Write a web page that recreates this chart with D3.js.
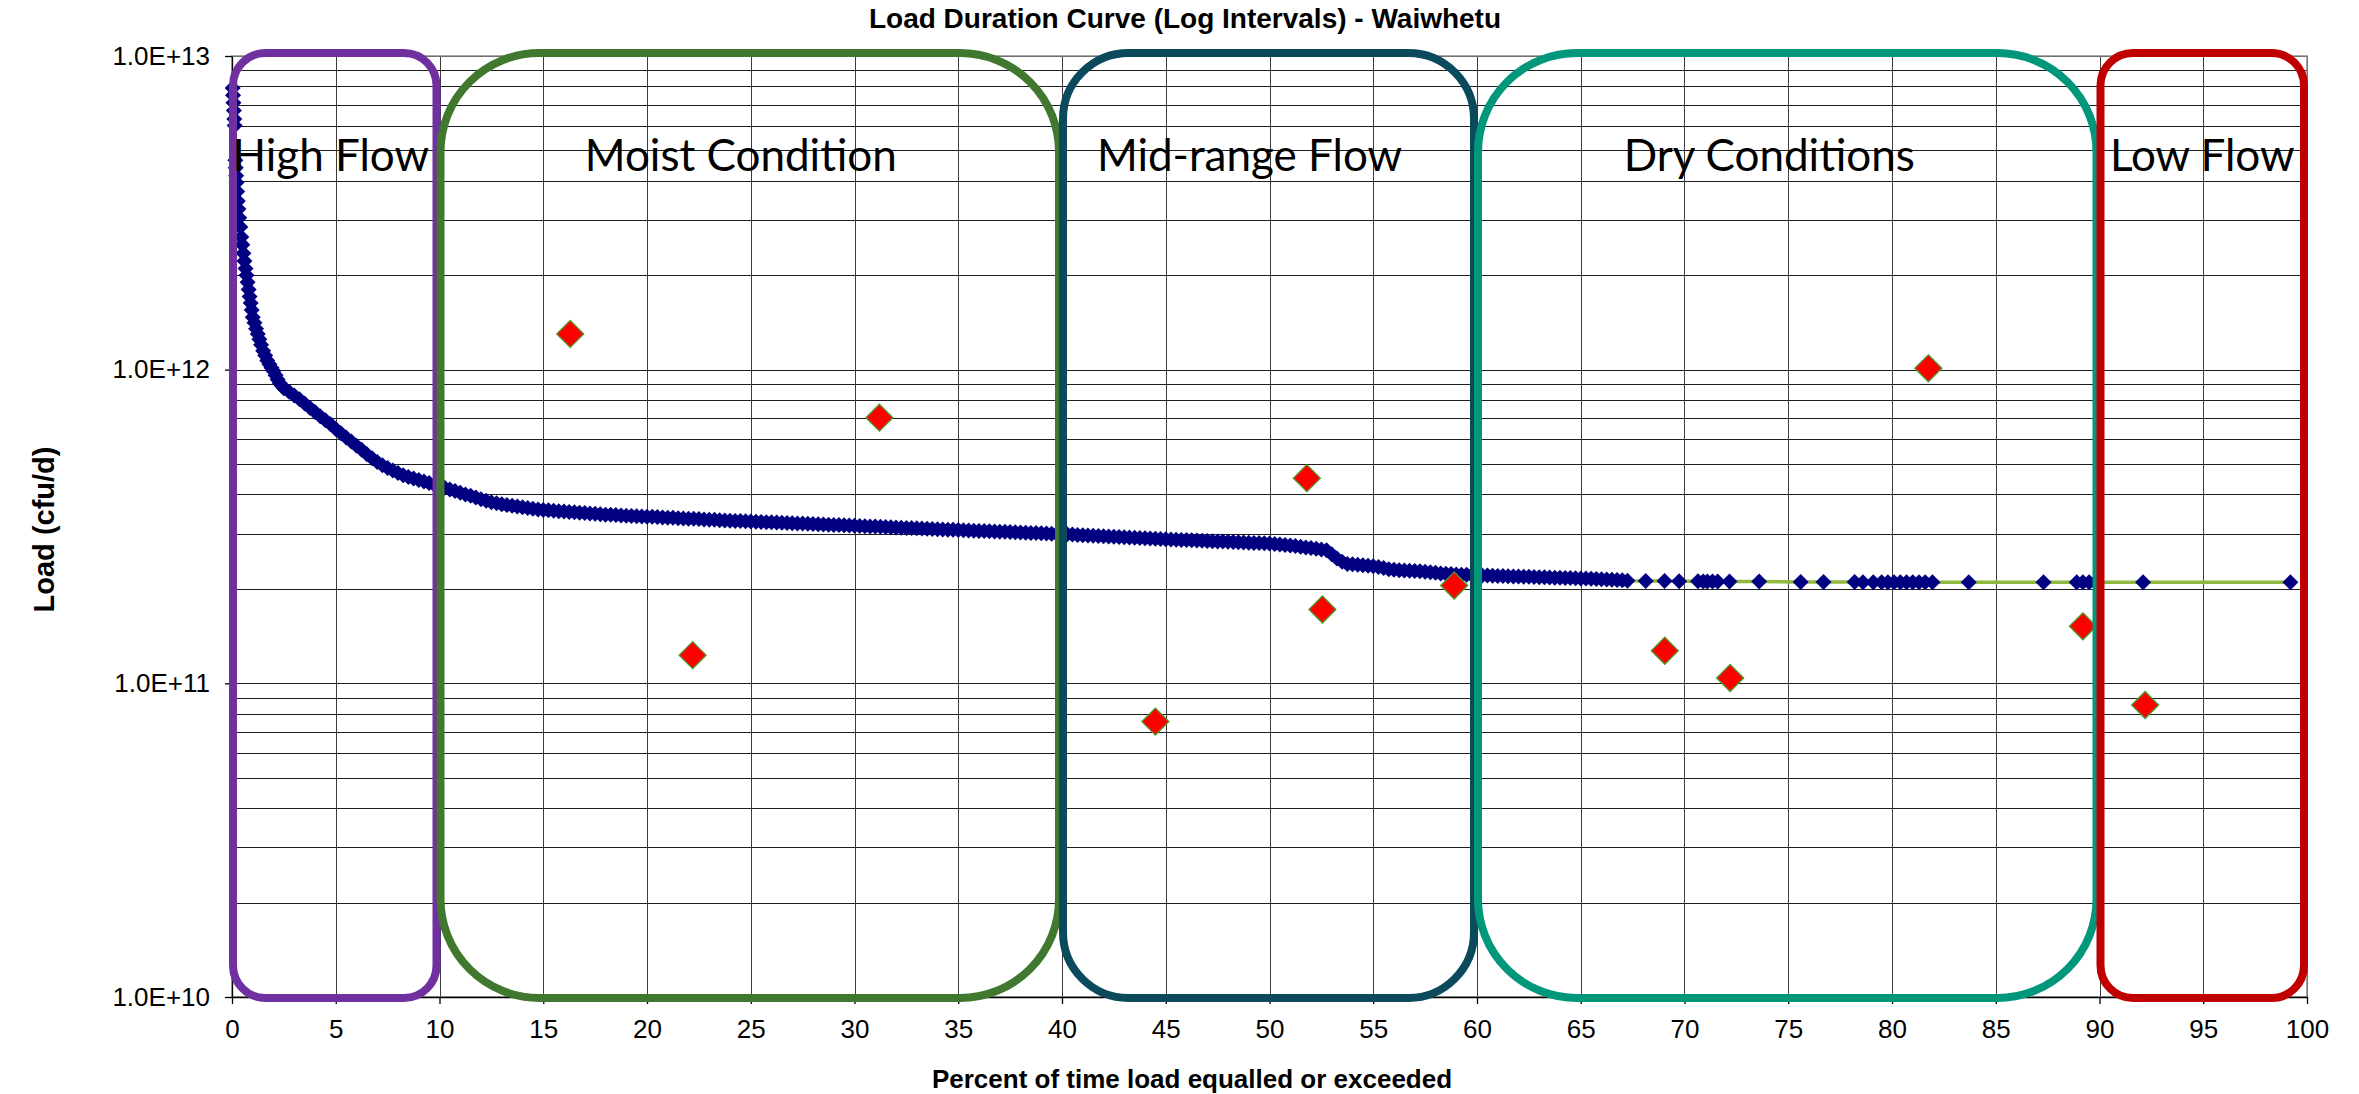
<!DOCTYPE html>
<html>
<head>
<meta charset="utf-8">
<script src="https://cdn.jsdelivr.net/npm/d3@7"></script>
<style>
  body { margin: 0; background: #fff; }
  svg { display: block; }
</style>
</head>
<body>
<div id="chart"></div>
<script>
// All loads below are in units of 1e11 cfu/d
const LOAD_UNIT = 1e11;

// Duration curve - steep start (percent exceeded, load)
const steepPct = [0.03, 0.05, 0.07, 0.09, 0.11, 0.13, 0.16, 0.18, 0.20, 0.22,
   0.25, 0.28, 0.31, 0.35, 0.40, 0.45, 0.50, 0.55, 0.60, 0.65,
   0.70, 0.75, 0.80, 0.85, 0.90, 0.95, 1.00, 1.08, 1.16, 1.24,
   1.32, 1.40, 1.50, 1.60, 1.70, 1.80, 1.90, 2.00, 2.10, 2.20,
   2.30, 2.40];
const steepLoad = [79, 75, 71, 67, 63, 60, 46.5, 44, 41.5, 39.5,
   37, 34.5, 32.5, 30.5, 28.5, 26.5, 25, 23.5, 22.2, 21,
   20, 19, 18, 17.1, 16.3, 15.5, 14.7, 14.1, 13.5, 13.0,
   12.5, 12.0, 11.5, 11.1, 10.7, 10.4, 10.15, 9.9, 9.6, 9.3,
   9.05, 8.88];

// Duration curve - dense band
const bandPct = [2.5, 2.75, 3, 3.25, 3.5, 3.75, 4, 4.25,
   4.5, 4.75, 5, 5.25, 5.5, 5.75, 6, 6.25,
   6.5, 6.75, 7, 7.25, 7.5, 7.75, 8, 8.25,
   8.5, 8.75, 9, 9.25, 9.5, 9.75, 10, 10.25,
   10.5, 10.75, 11, 11.25, 11.5, 11.75, 12, 12.25,
   12.5, 12.75, 13, 13.25, 13.5, 13.75, 14, 14.25,
   14.5, 14.75, 15, 15.25, 15.5, 15.75, 16, 16.25,
   16.5, 16.75, 17, 17.25, 17.5, 17.75, 18, 18.25,
   18.5, 18.75, 19, 19.25, 19.5, 19.75, 20, 20.25,
   20.5, 20.75, 21, 21.25, 21.5, 21.75, 22, 22.25,
   22.5, 22.75, 23, 23.25, 23.5, 23.75, 24, 24.25,
   24.5, 24.75, 25, 25.25, 25.5, 25.75, 26, 26.25,
   26.5, 26.75, 27, 27.25, 27.5, 27.75, 28, 28.25,
   28.5, 28.75, 29, 29.25, 29.5, 29.75, 30, 30.25,
   30.5, 30.75, 31, 31.25, 31.5, 31.75, 32, 32.25,
   32.5, 32.75, 33, 33.25, 33.5, 33.75, 34, 34.25,
   34.5, 34.75, 35, 35.25, 35.5, 35.75, 36, 36.25,
   36.5, 36.75, 37, 37.25, 37.5, 37.75, 38, 38.25,
   38.5, 38.75, 39, 39.25, 39.5, 39.75, 40, 40.25,
   40.5, 40.75, 41, 41.25, 41.5, 41.75, 42, 42.25,
   42.5, 42.75, 43, 43.25, 43.5, 43.75, 44, 44.25,
   44.5, 44.75, 45, 45.25, 45.5, 45.75, 46, 46.25,
   46.5, 46.75, 47, 47.25, 47.5, 47.75, 48, 48.25,
   48.5, 48.75, 49, 49.25, 49.5, 49.75, 50, 50.25,
   50.5, 50.75, 51, 51.25, 51.5, 51.75, 52, 52.25,
   52.5, 52.75, 53, 53.25, 53.5, 53.75, 54, 54.25,
   54.5, 54.75, 55, 55.25, 55.5, 55.75, 56, 56.25,
   56.5, 56.75, 57, 57.25, 57.5, 57.75, 58, 58.25,
   58.5, 58.75, 59, 59.25, 59.5, 59.75, 60, 60.25,
   60.5, 60.75, 61, 61.25, 61.5, 61.75, 62, 62.25,
   62.5, 62.75, 63, 63.25, 63.5, 63.75, 64, 64.25,
   64.5, 64.75, 65, 65.25, 65.5, 65.75, 66, 66.25,
   66.5, 66.75, 67];
const bandLoad = [8.72, 8.50, 8.28, 8.05, 7.80, 7.56, 7.33, 7.10,
   6.90, 6.70, 6.47, 6.27, 6.08, 5.90, 5.72, 5.55,
   5.37, 5.22, 5.08, 4.96, 4.86, 4.77, 4.68, 4.61,
   4.55, 4.50, 4.45, 4.40, 4.35, 4.30, 4.25, 4.20,
   4.15, 4.10, 4.05, 4.00, 3.96, 3.91, 3.86, 3.82,
   3.78, 3.75, 3.72, 3.70, 3.68, 3.66, 3.64, 3.62,
   3.60, 3.58, 3.57, 3.56, 3.55, 3.54, 3.53, 3.52,
   3.51, 3.50, 3.49, 3.48, 3.47, 3.46, 3.45, 3.445,
   3.44, 3.43, 3.42, 3.415, 3.41, 3.405, 3.40, 3.395,
   3.39, 3.38, 3.375, 3.37, 3.36, 3.355, 3.35, 3.345,
   3.34, 3.33, 3.325, 3.32, 3.31, 3.305, 3.30, 3.295,
   3.29, 3.285, 3.28, 3.275, 3.27, 3.265, 3.26, 3.255,
   3.25, 3.245, 3.24, 3.235, 3.23, 3.225, 3.22, 3.215,
   3.21, 3.205, 3.20, 3.195, 3.19, 3.185, 3.18, 3.175,
   3.17, 3.165, 3.16, 3.155, 3.15, 3.145, 3.14, 3.135,
   3.13, 3.125, 3.12, 3.115, 3.11, 3.105, 3.10, 3.095,
   3.09, 3.085, 3.08, 3.075, 3.07, 3.066, 3.062, 3.057,
   3.053, 3.048, 3.044, 3.04, 3.035, 3.031, 3.026, 3.022,
   3.017, 3.013, 3.008, 3.004, 3.0, 2.995, 2.99, 2.985,
   2.98, 2.973, 2.968, 2.962, 2.957, 2.951, 2.946, 2.94,
   2.935, 2.93, 2.924, 2.918, 2.913, 2.907, 2.902, 2.896,
   2.891, 2.885, 2.88, 2.875, 2.871, 2.866, 2.862, 2.857,
   2.853, 2.849, 2.844, 2.84, 2.835, 2.831, 2.826, 2.822,
   2.817, 2.813, 2.808, 2.804, 2.799, 2.795, 2.79, 2.78,
   2.77, 2.76, 2.75, 2.74, 2.725, 2.71, 2.70, 2.685,
   2.67, 2.655, 2.58, 2.50, 2.44, 2.40, 2.395, 2.39,
   2.38, 2.37, 2.36, 2.35, 2.33, 2.31, 2.30, 2.295,
   2.29, 2.285, 2.28, 2.275, 2.27, 2.26, 2.25, 2.24,
   2.235, 2.23, 2.225, 2.22, 2.218, 2.215, 2.21, 2.208,
   2.205, 2.202, 2.2, 2.198, 2.195, 2.192, 2.19, 2.188,
   2.185, 2.182, 2.18, 2.178, 2.175, 2.172, 2.17, 2.168,
   2.165, 2.162, 2.16, 2.157, 2.154, 2.15, 2.146, 2.142,
   2.138, 2.134, 2.13];

// Duration curve - sparse tail
const tailPct = [67.25, 68.13, 69.04, 69.74, 70.65, 70.9, 71.1, 71.35, 71.6, 72.17,
   73.6, 75.6, 76.7, 78.2, 78.6, 79.1, 79.5, 79.8, 80.1, 80.4,
   80.7, 81.0, 81.3, 81.6, 81.95, 83.7, 87.3, 88.9, 89.2, 89.5,
   89.8, 92.1, 99.2];
const tailLoad = [2.125, 2.12, 2.12, 2.115, 2.115, 2.11, 2.11, 2.11, 2.11, 2.11,
   2.11, 2.105, 2.105, 2.105, 2.1, 2.1, 2.1, 2.1, 2.1, 2.1,
   2.1, 2.1, 2.1, 2.1, 2.1, 2.1, 2.1, 2.1, 2.1, 2.1,
   2.1, 2.1, 2.1];

// Observed samples
const samplePct = [16.3, 22.2, 31.2, 44.5, 51.8, 52.55, 58.9, 69.05, 72.2, 81.75, 89.2, 92.2];
const sampleLoad = [13.0, 1.23, 7.03, 0.755, 4.51, 1.72, 2.05, 1.27, 1.04, 10.1, 1.52, 0.853];

// Flow zones
const zoneNames = ["High Flow", "Moist Condition", "Mid-range Flow", "Dry Conditions", "Low Flow"];
const zoneBounds = [0, 10, 40, 60, 90, 100];
const zoneColors = ["#7030a0", "#41782f", "#0a4a5c", "#00977a", "#c00000"];

// Axis ticks
const xTicks = [0, 5, 10, 15, 20, 25, 30, 35, 40, 45, 50, 55, 60, 65, 70, 75, 80, 85, 90, 95, 100];
const yTicks = [1e10, 1e11, 1e12, 1e13];

const width = 2359, height = 1094;
const plot = { left: 232, right: 2307, top: 56, bottom: 997 };
const font = "'Liberation Sans', Arial, sans-serif";
// label nudges (px) so the zone captions sit where the text boxes were placed
const labelShift = [-4, -9, -19, -18, 0];

let curve = [];
[[steepPct, steepLoad], [bandPct, bandLoad], [tailPct, tailLoad]].forEach(([p, l]) => {
   p.forEach((d, i) => curve.push({ pct: d, load: l[i] * LOAD_UNIT }));
});
let samples = samplePct.map((d, i) => ({ pct: d, load: sampleLoad[i] * LOAD_UNIT }));

let svg = d3.select("#chart")
            .append("svg")
            .attr("width", width)
            .attr("height", height)
            .style("font-family", font);

svg.append("rect").attr("width", width).attr("height", height).attr("fill", "#fff");

let x = d3.scaleLinear().domain([0, 100]).range([plot.left, plot.right]);
let y = d3.scaleLog().domain([1e10, 1e13]).range([plot.bottom, plot.top]);

// Gridlines
svg.append("g")
   .selectAll("line")
   .data(y.ticks())
   .enter()
   .append("line")
   .attr("x1", plot.left).attr("x2", plot.right)
   .attr("y1", d => Math.round(y(d)) + 0.5).attr("y2", d => Math.round(y(d)) + 0.5)
   .attr("stroke", "#1e1e1e")
   .attr("stroke-width", 1);

svg.append("g")
   .selectAll("line")
   .data(xTicks)
   .enter()
   .append("line")
   .attr("x1", d => Math.round(x(d)) + 0.5).attr("x2", d => Math.round(x(d)) + 0.5)
   .attr("y1", plot.top).attr("y2", plot.bottom)
   .attr("stroke", "#3a3a3a")
   .attr("stroke-width", 1);

// Plot frame
svg.append("rect")
   .attr("x", plot.left).attr("y", plot.top)
   .attr("width", plot.right - plot.left).attr("height", plot.bottom - plot.top)
   .attr("fill", "none")
   .attr("stroke", "#8c8c8c")
   .attr("stroke-width", 1.5);

// Axes
let yAxis = svg.append("g")
   .attr("transform", `translate(${plot.left},0)`)
   .call(d3.axisLeft(y).tickValues(yTicks).tickSize(7).tickSizeOuter(0).tickPadding(15)
           .tickFormat(d => "1.0E+" + Math.round(Math.log10(d))));
let xAxis = svg.append("g")
   .attr("transform", `translate(0,${plot.bottom})`)
   .call(d3.axisBottom(x).tickValues(xTicks).tickSize(7).tickSizeOuter(0).tickPadding(16)
           .tickFormat(d3.format("d")));
[yAxis, xAxis].forEach(a => {
   a.selectAll("path, line").attr("stroke", "#000").attr("stroke-width", 1.3);
   a.selectAll("text").attr("fill", "#000").style("font-size", "26px").style("font-family", font);
});

// Duration curve: connecting line then markers
let diamond = r => `M0,${-r}L${r},0L0,${r}L${-r},0Z`;

svg.append("path")
   .datum(curve)
   .attr("d", d3.line().x(d => x(d.pct)).y(d => y(d.load)))
   .attr("fill", "none")
   .attr("stroke", "#8fb83f")
   .attr("stroke-width", 3.5);

svg.append("g")
   .selectAll("path")
   .data(curve)
   .enter()
   .append("path")
   .attr("transform", d => `translate(${x(d.pct)},${y(d.load)})`)
   .attr("d", diamond(8))
   .attr("fill", "#000080");

// Samples
svg.append("g")
   .selectAll("path")
   .data(samples)
   .enter()
   .append("path")
   .attr("transform", d => `translate(${x(d.pct)},${y(d.load)})`)
   .attr("d", diamond(13.5))
   .attr("fill", "#ff0000")
   .attr("stroke", "#4e9a2c")
   .attr("stroke-width", 1.3);

// Zone boxes and labels
let zones = zoneNames.map((name, i) => ({
   name,
   color: zoneColors[i],
   shift: labelShift[i],
   x0: x(zoneBounds[i]) + 1,
   x1: x(zoneBounds[i + 1]) - 3
}));

svg.append("g")
   .selectAll("rect")
   .data(zones)
   .enter()
   .append("rect")
   .attr("x", d => d.x0)
   .attr("y", plot.top - 3)
   .attr("width", d => d.x1 - d.x0)
   .attr("height", plot.bottom - plot.top + 4)
   .attr("rx", d => 0.16 * (d.x1 - d.x0))
   .attr("fill", "none")
   .attr("stroke", d => d.color)
   .attr("stroke-width", 8);

svg.append("g")
   .selectAll("text")
   .data(zones)
   .enter()
   .append("text")
   .attr("x", d => (d.x0 + d.x1) / 2 + d.shift)
   .attr("y", 171)
   .attr("text-anchor", "middle")
   .style("font-family", "Lato, 'Open Sans', sans-serif")
   .style("font-size", "44px")
   .attr("fill", "#000")
   .text(d => d.name);

// Titles
svg.append("text")
   .attr("x", 1185)
   .attr("y", 28)
   .attr("text-anchor", "middle")
   .style("font-size", "28px")
   .style("font-weight", "bold")
   .text("Load Duration Curve (Log Intervals) - Waiwhetu");

svg.append("text")
   .attr("x", 1192)
   .attr("y", 1088)
   .attr("text-anchor", "middle")
   .style("font-size", "26px")
   .style("font-weight", "bold")
   .text("Percent of time load equalled or exceeded");

svg.append("text")
   .attr("transform", `translate(44,${(plot.top + plot.bottom) / 2 + 3}) rotate(-90)`)
   .attr("dy", "0.35em")
   .attr("text-anchor", "middle")
   .style("font-size", "29px")
   .style("font-weight", "bold")
   .text("Load (cfu/d)");
</script>
</body>
</html>
